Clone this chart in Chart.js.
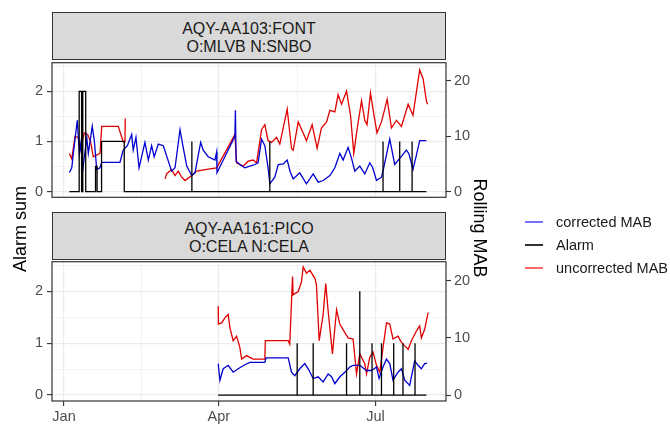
<!DOCTYPE html>
<html>
<head>
<meta charset="utf-8">
<script src="https://cdn.jsdelivr.net/npm/chart.js@4.4.1/dist/chart.umd.min.js"></script>
<style>
  body {
    margin: 0;
    width: 670px;
    height: 424px;
    background: #fff;
    position: relative;
    overflow: hidden;
    font-family: "Liberation Sans", Arial, sans-serif;
  }
  canvas { position: absolute; left: 0; }
  .strip {
    position: absolute;
    left: 52px;
    width: 394px;
    height: 48px;
    box-sizing: border-box;
    padding-top: 7px;
    background: #d9d9d9;
    border: 1px solid #333;
    color: #1a1a1a;
    font-size: 16px;
    line-height: 18px;
    text-align: center;
  }
  .axis-title {
    position: absolute;
    width: 140px;
    height: 22px;
    line-height: 22px;
    text-align: center;
    font-size: 18px;
    color: #000;
  }
  .legend-row {
    position: absolute;
    left: 525px;
    height: 18px;
    line-height: 18px;
    font-size: 14.5px;
    color: #1a1a1a;
  }
  .legend-row .key {
    position: absolute;
    left: 0;
    top: 8px;
    width: 18px;
    height: 1.6px;
  }
  .legend-row .label {
    position: absolute;
    left: 31px;
    white-space: nowrap;
  }
</style>
</head>
<body>

<div class="strip" style="top:12px">AQY-AA103:FONT<br>O:MLVB N:SNBO</div>
<div class="strip" style="top:212px">AQY-AA161:PICO<br>O:CELA N:CELA</div>

<canvas id="topChart" width="500" height="160" style="top:50px"></canvas>
<canvas id="bottomChart" width="500" height="175" style="top:249px"></canvas>

<div class="axis-title" style="left:-50px; top:218px; transform:rotate(-90deg)">Alarm sum</div>
<div class="axis-title" style="left:410px; top:217px; transform:rotate(90deg)">Rolling MAB</div>

<div class="legend-row" style="top:213px"><span class="key" style="background:rgba(0,0,255,0.55)"></span><span class="label">corrected MAB</span></div>
<div class="legend-row" style="top:236px"><span class="key" style="background:#333"></span><span class="label">Alarm</span></div>
<div class="legend-row" style="top:259px"><span class="key" style="background:rgba(255,0,0,0.6)"></span><span class="label">uncorrected MAB</span></div>

<script>
// x = days since 1 Jan
const xMajor = [0, 90, 181];
const xMinor = [45, 135.5];
const xLabels = ["Jan", "Apr", "Jul"];
const alarmTicks = [0, 0.5, 1, 1.5, 2, 2.5];
const mabTicks = [0, 10, 20];

// AQY-AA103:FONT  [day, Rolling MAB]
const topCorrected = [
  [3.1, 3.45], [4.5, 4.3], [5.4, 6.9], [7.7, 12.9], [8.9, 6.9], [9.7, 8.6], [10.9, 4.0],
  [13.2, 9.8], [14.1, 6.9], [16.4, 11.8], [17.6, 9.2], [19.0, 4.0], [20.9, 4.3], [21.9, 5.3],
  [32.5, 5.3], [34.4, 7.5], [36.8, 8.3], [39.3, 10.3], [40.2, 7.5], [41.8, 9.8], [43.6, 4.3],
  [47.0, 8.9], [49.0, 5.7], [50.9, 8.3], [52.4, 6.3], [54.8, 8.6], [57.7, 8.3], [62.5, 3.7],
  [64.5, 4.3], [67.4, 11.2], [68.9, 8.6], [71.3, 4.6], [74.2, 2.9], [76.1, 3.4], [79.4, 8.9],
  [80.9, 7.5], [83.8, 6.3], [87.7, 5.7], [88.7, 7.2], [88.9, 3.4], [99.3, 10.0], [99.6, 14.7],
  [100.0, 5.5], [102.2, 4.9], [105.1, 4.3], [108.0, 4.6], [110.9, 4.9], [112.8, 5.2],
  [114.8, 9.5], [116.7, 8.3], [118.6, 4.3], [119.6, 1.4], [122.5, 2.6], [124.5, 4.9],
  [127.5, 5.0], [129.7, 5.7], [131.5, 3.5], [133.2, 2.3], [137.0, 3.4], [140.9, 1.4],
  [144.8, 3.2], [147.7, 1.7], [150.6, 2.0], [154.5, 2.9], [157.4, 4.3], [160.3, 6.9],
  [162.2, 5.7], [165.1, 8.0], [167.1, 6.0], [169.0, 3.7], [171.9, 4.6], [174.8, 3.2],
  [177.7, 5.2], [179.3, 4.4], [181.6, 2.0], [184.5, 2.6], [185.8, 4.3], [189.3, 9.5],
  [192.2, 4.9], [195.1, 6.0], [199.0, 7.5], [200.5, 6.8], [202.8, 4.0], [204.8, 6.6],
  [206.7, 9.2], [210.6, 9.2]
];
const topUncorrected = [
  [3.1, 6.9], [4.5, 5.9], [6.4, 10.0], [8.3, 9.8], [9.3, 7.5], [11.8, 10.6], [13.8, 10.3],
  [15.5, 8.9], [17.0, 6.3], [20.9, 6.9], [21.9, 11.8], [31.5, 11.8], [34.4, 9.0],
  [35.4, 9.0], [35.6, 13.2], [47.0, null],
  [58.7, 2.3], [59.6, 3.2], [62.5, 4.0], [64.5, 2.9], [66.4, 3.7], [68.4, 2.6], [70.3, 2.0],
  [74.2, 2.9], [77.1, 3.7], [82.9, 4.0], [88.7, 4.3], [99.3, 10.3], [100.3, 5.2],
  [104.1, 4.6], [107.0, 5.5], [109.9, 5.7], [111.9, 5.2], [114.8, 11.2], [116.7, 12.1],
  [118.6, 9.2], [120.6, 8.9], [123.5, 9.8], [125.4, 8.6], [129.7, 14.9], [132.2, 7.8],
  [133.2, 7.5], [136.1, 12.6], [139.0, 10.6], [140.9, 9.2], [144.2, 12.1], [147.1, 7.8],
  [149.6, 11.5], [152.6, 12.6], [154.5, 14.7], [157.4, 14.4], [159.3, 17.5], [161.3, 15.8],
  [164.2, 18.2], [166.5, 13.8], [168.4, 6.9], [170.3, 11.2], [172.9, 16.4], [174.8, 12.9],
  [176.1, 12.1], [178.1, 17.8], [180.0, 14.1], [181.9, 10.6], [184.5, 12.6], [187.8, 16.7],
  [190.3, 11.5], [193.2, 12.9], [196.1, 11.8], [200.0, 15.8], [202.8, 13.8], [206.7, 22.0],
  [208.7, 20.4], [210.6, 16.4], [211.3, 15.8]
];
// [day, Alarm sum]
const topAlarm = [
  [3.1, 0], [8.8, 0], [8.8, 2], [10.2, 2], [10.2, 0], [10.9, 0], [10.9, 2], [12.6, 2],
  [12.6, 0], [18.3, 0], [18.3, 0.5], [19.2, 0.5], [19.2, 0], [21.8, 0], [21.8, 1], [35.0, 1],
  [35.0, 0], [74.3, 0], [74.3, 1], [74.3, 0], [119.6, 0], [119.6, 1], [119.6, 0],
  [185.4, 0], [185.4, 1], [185.4, 0], [195.1, 0], [195.1, 1], [195.1, 0],
  [202.3, 0], [202.3, 1], [202.3, 0], [210.6, 0]
];

// AQY-AA161:PICO
const bottomCorrected = [
  [89.6, 5.5], [90.6, 2.6], [92.5, 4.6], [95.4, 5.2], [98.3, 4.0], [101.2, 4.6], [105.1, 5.3],
  [108.0, 5.7], [116.7, 5.7], [117.4, 6.5], [130.3, 6.5], [132.2, 4.0], [134.1, 3.4],
  [137.0, 4.6], [139.9, 5.5], [141.9, 4.6], [144.8, 2.9], [147.7, 3.2], [150.6, 2.3],
  [153.5, 3.7], [155.5, 3.2], [157.4, 2.0], [160.3, 3.2], [163.2, 4.0], [166.1, 4.9],
  [168.0, 5.2], [171.9, 5.2], [175.8, 4.3], [178.7, 4.3], [181.6, 4.9], [183.1, 2.9],
  [185.4, 4.9], [187.4, 6.3], [189.3, 5.5], [191.2, 2.6], [194.1, 4.0], [196.1, 4.6],
  [198.0, 2.6], [200.9, 1.7], [203.8, 6.0], [205.7, 5.2], [207.7, 4.6], [209.6, 5.5],
  [211.0, 5.6]
];
const bottomUncorrected = [
  [89.6, 15.5], [89.7, 12.4], [91.6, 12.6], [93.5, 13.5], [95.4, 14.1], [96.4, 11.8],
  [98.3, 9.5], [100.3, 10.3], [102.2, 8.3], [103.2, 6.3], [106.1, 6.9], [109.9, 6.3],
  [116.7, 6.3], [117.0, 9.5], [130.3, 9.5], [131.2, 8.9], [132.8, 20.7], [133.1, 17.5],
  [136.1, 18.1], [138.0, 19.8], [139.0, 22.4], [140.9, 21.3], [142.9, 21.8], [145.8, 20.4],
  [146.7, 19.3], [148.3, 9.5], [150.6, 14.1], [152.1, 19.5], [153.5, 14.7], [156.0, 7.2],
  [158.4, 14.9], [160.3, 12.4], [163.2, 10.9], [165.1, 10.0], [168.0, 9.8], [170.0, 3.7],
  [171.9, 7.2], [174.8, 5.5], [175.8, 3.7], [177.7, 6.6], [179.6, 7.5], [181.6, 5.2],
  [183.5, 4.0], [185.4, 8.3], [187.4, 12.6], [189.3, 12.4], [191.2, 9.8], [194.1, 10.3],
  [196.1, 9.2], [198.0, 8.6], [200.0, 8.0], [201.9, 9.5], [204.8, 11.2], [206.7, 12.1],
  [207.7, 10.0], [209.6, 11.5], [211.6, 14.4]
];
const bottomAlarm = [
  [89.6, 0], [135.5, 0], [135.5, 1], [135.5, 0], [144.8, 0], [144.8, 1], [144.8, 0],
  [164.2, 0], [164.2, 1], [164.2, 0], [171.9, 0], [171.9, 2], [171.9, 0],
  [179.0, 0], [179.0, 1], [179.0, 0], [184.5, 0], [184.5, 1], [184.5, 0],
  [191.6, 0], [191.6, 1], [191.6, 0], [197.0, 0], [197.0, 1], [197.0, 0],
  [204.0, 0], [204.0, 1], [204.0, 0], [210.6, 0]
];

const FONT = "'Liberation Sans', Arial, sans-serif";
const GRID = "#ebebeb";
const DARK = "#333333";

const panelBorder = {
  id: "panelBorder",
  afterDraw(chart) {
    const { ctx, chartArea: a } = chart;
    ctx.save();
    ctx.strokeStyle = DARK;
    ctx.lineWidth = 1.2;
    ctx.strokeRect(a.left, a.top, a.right - a.left, a.bottom - a.top);
    ctx.restore();
  }
};

function series(data, color, axis, width) {
  return {
    data: data.map(([x, y]) => ({ x: x, y: y })),
    borderColor: color,
    borderWidth: width,
    pointRadius: 0,
    tension: 0,
    fill: false,
    spanGaps: false,
    yAxisID: axis
  };
}

function isMajor(list, ctx) {
  return ctx.tick ? list.includes(ctx.tick.value) : false;
}

function createPanel(canvasId, alarm, corrected, uncorrected, showX, xHeight) {
  const ctx = document.getElementById(canvasId).getContext("2d");

  return new Chart(ctx, {
    type: "line",
    data: {
      datasets: [
        series(alarm, "#000000", "y", 1.3),
        series(corrected, "#0000d0", "y1", 1.3),
        series(uncorrected, "#e00000", "y1", 1.3)
      ]
    },
    options: {
      responsive: false,
      animation: false,
      events: [],
      layout: { padding: { top: 10, left: 0, right: 0, bottom: 0 } },
      plugins: {
        legend: { display: false },
        tooltip: { enabled: false }
      },
      scales: {
        x: {
          type: "linear",
          min: -7,
          max: 222,
          border: { display: false },
          afterBuildTicks: (s) => {
            s.ticks = xMajor.concat(xMinor).sort((a, b) => a - b).map((v) => ({ value: v }));
          },
          afterFit: (s) => { s.height = xHeight; },
          grid: {
            color: GRID,
            lineWidth: (c) => (isMajor(xMajor, c) ? 1.2 : 0.6),
            drawTicks: showX,
            tickLength: 5,
            tickWidth: 1.1,
            tickColor: (c) => (isMajor(xMajor, c) ? DARK : "rgba(0,0,0,0)")
          },
          ticks: {
            display: showX,
            autoSkip: false,
            maxRotation: 0,
            padding: 2,
            color: "#4d4d4d",
            font: { family: FONT, size: 14.5 },
            callback: (v) => {
              const i = xMajor.indexOf(v);
              return i >= 0 ? xLabels[i] : "";
            }
          }
        },
        y: {
          position: "left",
          min: -0.114,
          max: 2.571,
          border: { display: false },
          afterBuildTicks: (s) => { s.ticks = alarmTicks.map((v) => ({ value: v })); },
          afterFit: (s) => { s.width = 52; },
          grid: {
            color: GRID,
            lineWidth: (c) => (c.tick && Number.isInteger(c.tick.value) ? 1.2 : 0.6),
            tickLength: 5,
            tickWidth: 1.1,
            tickColor: (c) => (c.tick && Number.isInteger(c.tick.value) ? DARK : "rgba(0,0,0,0)")
          },
          ticks: {
            padding: 4,
            color: "#4d4d4d",
            font: { family: FONT, size: 14.5 },
            callback: (v) => (Number.isInteger(v) ? String(v) : "")
          }
        },
        y1: {
          position: "right",
          min: -1.03,
          max: 23.3,
          border: { display: false },
          afterBuildTicks: (s) => { s.ticks = mabTicks.map((v) => ({ value: v })); },
          afterFit: (s) => { s.width = 54; },
          grid: {
            drawOnChartArea: false,
            tickLength: 5,
            tickWidth: 1.1,
            tickColor: DARK
          },
          ticks: {
            padding: 3,
            color: "#4d4d4d",
            font: { family: FONT, size: 14.5 }
          }
        }
      }
    },
    plugins: [panelBorder]
  });
}

createPanel("topChart", topAlarm, topCorrected, topUncorrected, false, 9);
createPanel("bottomChart", bottomAlarm, bottomCorrected, bottomUncorrected, true, 23);
</script>
</body>
</html>
